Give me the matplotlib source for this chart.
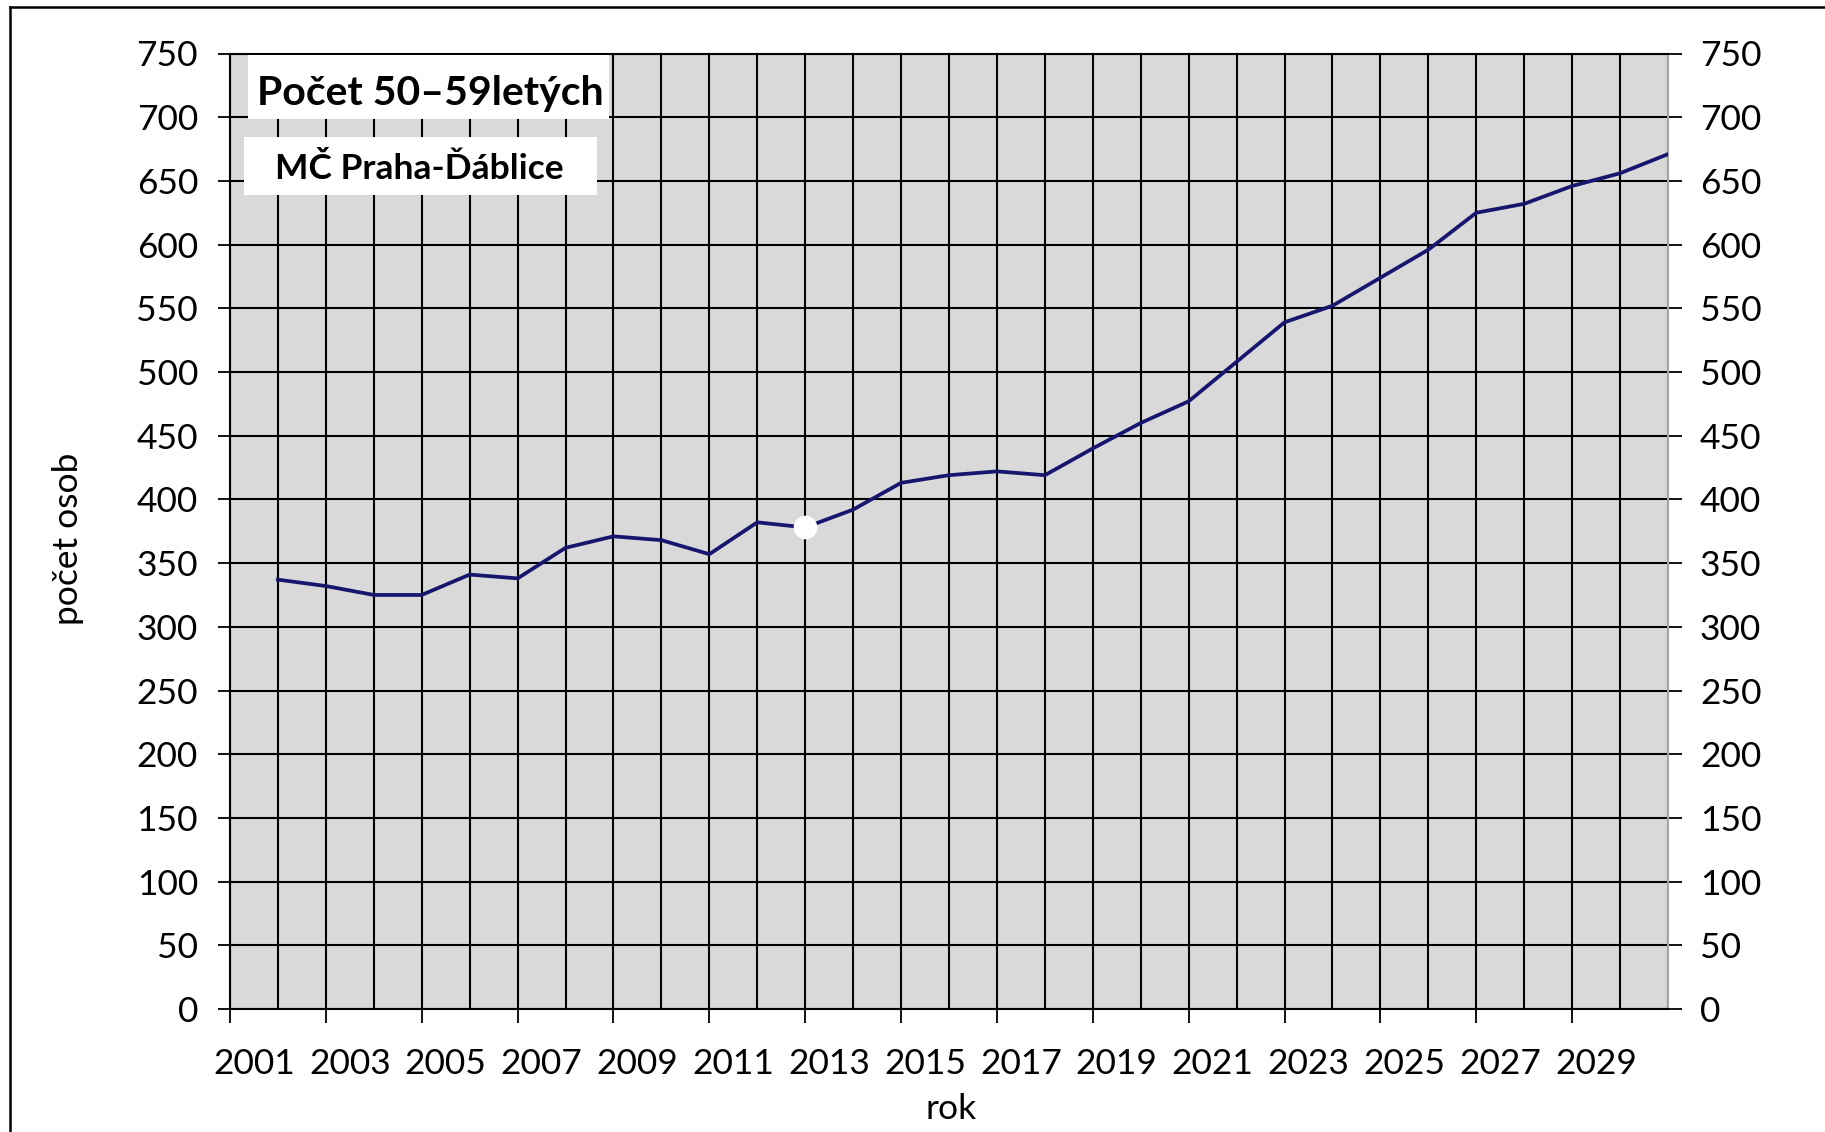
import matplotlib
matplotlib.use("Agg")
import matplotlib.pyplot as plt
from matplotlib.patches import Rectangle
from matplotlib.lines import Line2D
from matplotlib.ticker import FixedLocator, NullFormatter

plt.rcParams['font.family'] = ['Lato', 'DejaVu Sans']

# ---- data ----
years = list(range(2001, 2031))
values = [337, 332, 325, 325, 341, 338, 362, 371, 368, 357,
          382, 378, 392, 413, 419, 422, 419, 440, 460, 477,
          508, 539, 552, 574, 596, 625, 632, 646, 656, 671]
highlight_year = 2012
label_years = list(range(2001, 2030, 2))
y_ticks = list(range(0, 751, 50))
title = "Počet 50–59letých"
subtitle = "MČ Praha-Ďáblice"
xlabel = "rok"
ylabel = "počet osob"

W, H = 1825, 1132
fig = plt.figure(figsize=(W / 100, H / 100), dpi=100)

def fx(px):
    return px / W

def fy(py):
    return 1 - py / H

left, right, top, bottom = 230, 1668, 53.5, 1009
ax = fig.add_axes([fx(left), fy(bottom), fx(right) - fx(left), fy(top) - fy(bottom)])
ax.set_facecolor('#d9d9d9')

x0 = years[0] - 1
ax.set_xlim(x0, years[-1])
ax.set_ylim(0, 750)

TS = 25.5

# grid
ax.xaxis.set_major_locator(FixedLocator([x0 + k for k in range(0, len(years), 2)]))
ax.xaxis.set_minor_locator(FixedLocator([y - 1 + 0.5 for y in label_years]))
ax.xaxis.set_major_formatter(NullFormatter())
ax.set_xticklabels([str(y) for y in label_years], minor=True)
for xv in range(x0, years[-1] + 1):
    ax.axvline(xv, color='black', lw=1.5, zorder=1)
ax.yaxis.set_major_locator(FixedLocator(y_ticks))
for yv in y_ticks:
    ax.axhline(yv, color='black', lw=1.5, zorder=1)

ax.tick_params(axis='x', which='major', direction='out', length=10, width=1.3, color='black')
ax.tick_params(axis='x', which='minor', length=0, labelsize=TS, pad=28)
ax.tick_params(axis='y', which='major', direction='out', length=9, width=1.3, color='black',
               labelsize=TS, pad=14, left=True, right=True, labelleft=True, labelright=True)

ax.set_yticklabels([str(v) for v in y_ticks])
for t in ax.yaxis.get_ticklines()[1::2]:
    t.set_color('#a6a6a6')
    t.set_markersize(10)

for s in ['left', 'bottom', 'top']:
    ax.spines[s].set_color('black')
    ax.spines[s].set_linewidth(1.5)
ax.spines['right'].set_color('#a6a6a6')
ax.spines['right'].set_linewidth(1.5)

# line
ax.plot(years, values, color='#16166e', lw=2.7, zorder=3, solid_joinstyle='miter')
hi = years.index(highlight_year)
ax.plot([years[hi]], [values[hi]], 'o', color='white', markeredgecolor='white',
        markersize=16, zorder=4)

# axis labels
fig.text(fx(951), fy(1109), xlabel, fontsize=TS, ha='center', va='center')
fig.text(fx(68), fy(539), ylabel, fontsize=TS, ha='center', va='center', rotation=90)

# title boxes
fig.patches.append(Rectangle((fx(248), fy(119)), fx(609) - fx(248), fy(55) - fy(119),
                             transform=fig.transFigure, facecolor='white', edgecolor='none', zorder=5))
fig.patches.append(Rectangle((fx(244), fy(195)), fx(597) - fx(244), fy(137) - fy(195),
                             transform=fig.transFigure, facecolor='white', edgecolor='none', zorder=5))
fig.text(fx(430), fy(93), title, fontsize=29.5, fontweight='bold', ha='center', va='center', zorder=6)
fig.text(fx(419), fy(169), subtitle, fontsize=25.5, fontweight='bold', ha='center', va='center', zorder=6)

# outer frame
fig.add_artist(Line2D([fx(10), 1], [fy(7), fy(7)], transform=fig.transFigure, color='black', lw=1.8))
fig.add_artist(Line2D([fx(10), fx(10)], [0, fy(7)], transform=fig.transFigure, color='black', lw=1.8))

fig.savefig('out.png', dpi=100, facecolor='white')
